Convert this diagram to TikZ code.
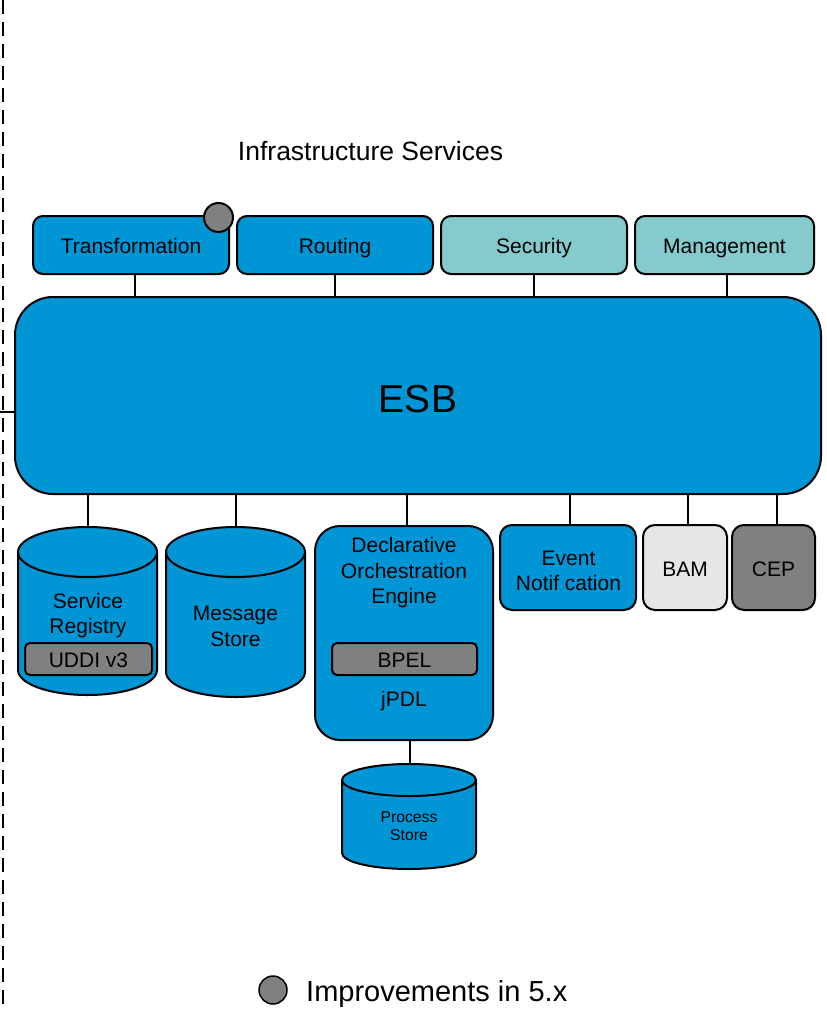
\documentclass[tikz,border=0pt]{standalone}
\usepackage{fontspec}
\setmainfont{Liberation Sans}
\definecolor{esbblue}{RGB}{0,150,214}
\definecolor{tealbox}{RGB}{133,202,204}
\definecolor{mgray}{RGB}{128,128,128}
\definecolor{lgray}{RGB}{230,230,230}
\begin{document}
\begin{tikzpicture}[x=1pt,y=1pt,
  box/.style={draw, line width=2pt, rounded corners=10pt, fill=esbblue, inner sep=0pt, align=center, font=\fontsize{21}{25.5}\selectfont},
  one/.style={text height=17.5pt, text depth=0pt},
  conn/.style={line width=2pt},
  txt/.style={inner sep=0pt, align=center, font=\fontsize{21}{25.5}\selectfont},
  cyl/.style={draw, line width=2pt, fill=esbblue},
  graybox/.style={draw, line width=2pt, rounded corners=5pt, fill=mgray, inner sep=0pt, font=\fontsize{21}{25.5}\selectfont, one},
  dotmark/.style={circle, draw, line width=2pt, fill=mgray, inner sep=0pt, minimum size=29pt}
]
\useasboundingbox (0,0) rectangle (827,-1009);

% left dashed border
\draw[line width=1.5pt, dash pattern=on 14pt off 8pt] (3,0) -- (3,-1009);

% title
\node[txt, font=\fontsize{26.5}{30}\selectfont] (title) at (370.5,-151) {Infrastructure Services};

% ESB
\node[box, rounded corners=38pt, minimum width=806pt, minimum height=197pt, font=\fontsize{39}{45}\selectfont, text height=33pt, text depth=0pt] (esb) at (418,-395.5) {ESB};
\coordinate (lft) at (0,-411.5);
\draw[conn] (lft) -- (lft -| esb.west);

% top services
\node[box, one, minimum width=196pt, minimum height=58pt] (tr) at (131,-245) {Transformation};
\node[box, one, minimum width=196pt, minimum height=58pt] (ro) at (335,-245) {Routing};
\node[box, one, fill=tealbox, minimum width=186pt, minimum height=58pt] (se) at (534,-245) {Security};
\node[box, one, fill=tealbox, minimum width=179pt, minimum height=58pt] (ma) at (724.5,-245) {Management};
\coordinate (trc) at (135,-274);
\coordinate (mac) at (727,-274);
\draw[conn] (trc) -- (trc |- esb.north);
\draw[conn] (ro.south) -- (ro.south |- esb.north);
\draw[conn] (se.south) -- (se.south |- esb.north);
\draw[conn] (mac) -- (mac |- esb.north);
\node[dotmark] (trdot) at (218.5,-217.5) {};

% Service Registry cylinder
\path[cyl] (18,-552) -- (18,-670) arc[start angle=180,end angle=360,x radius=69.5pt,y radius=25pt] -- (157,-552) arc[start angle=0,end angle=180,x radius=69.5pt,y radius=25pt] -- cycle;
\draw[line width=2pt] (18,-552) arc[start angle=180,end angle=360,x radius=69.5pt,y radius=25pt];
\coordinate (sr) at (87.5,-527);
\node[txt] (srt) at (88,-615.5) {Service\\Registry};
\node[graybox, minimum width=127pt, minimum height=32pt] (uddi) at (88.5,-659) {UDDI v3};

% Message Store cylinder
\path[cyl] (166,-552) -- (166,-672) arc[start angle=180,end angle=360,x radius=69.5pt,y radius=25pt] -- (305,-552) arc[start angle=0,end angle=180,x radius=69.5pt,y radius=25pt] -- cycle;
\draw[line width=2pt] (166,-552) arc[start angle=180,end angle=360,x radius=69.5pt,y radius=25pt];
\coordinate (ms) at (235.5,-527);
\node[txt] (mst) at (235.5,-626.5) {Message\\Store};

% Declarative Orchestration Engine
\node[box, rounded corners=25pt, minimum width=178pt, minimum height=214pt] (doe) at (404,-633) {};
\node[txt] (doet) at (404,-573) {Declarative\\Orchestration\\Engine};
\node[graybox, minimum width=145pt, minimum height=32pt] (bpel) at (404.5,-659) {BPEL};
\node[txt] (jpdl) at (404,-701) {jPDL};
\coordinate (doetop) at (407,-526);

% Process Store cylinder
\path[cyl] (342,-780) -- (342,-853) arc[start angle=180,end angle=360,x radius=67pt,y radius=16pt] -- (476,-780) arc[start angle=0,end angle=180,x radius=67pt,y radius=16pt] -- cycle;
\draw[line width=2pt] (342,-780) arc[start angle=180,end angle=360,x radius=67pt,y radius=16pt];
\coordinate (ps) at (410,-764);
\node[txt, font=\fontsize{15.7}{18}\selectfont] (pst) at (409,-826) {Process\\Store};

% Event, BAM, CEP
\node[box, rounded corners=12pt, minimum width=136pt, minimum height=85pt] (ev) at (568,-567.5) {};
\node[txt] (evt) at (568.5,-571) {Event\\Notif cation};
\node[box, one, rounded corners=12pt, fill=lgray, minimum width=84pt, minimum height=85pt] (bam) at (685,-567.5) {BAM};
\node[box, one, rounded corners=12pt, fill=mgray, minimum width=83pt, minimum height=85pt] (cep) at (773.5,-567.5) {CEP};
\coordinate (evc) at (570,-525);
\coordinate (bamc) at (688,-525);
\coordinate (cepc) at (777,-525);

% bottom connectors
\draw[conn] (esb.south -| sr) -- (sr);
\draw[conn] (esb.south -| ms) -- (ms);
\draw[conn] (esb.south -| doetop) -- (doetop);
\draw[conn] (esb.south -| evc) -- (evc);
\draw[conn] (esb.south -| bamc) -- (bamc);
\draw[conn] (esb.south -| cepc) -- (cepc);
\draw[conn] (doe.south -| ps) -- (ps);

% legend
\node[dotmark, line width=1.5pt, minimum size=28pt] (lg) at (273,-990) {};
\node[txt, anchor=west, font=\fontsize{29}{33}\selectfont] (lgt) at (306,-994) {Improvements in 5.x};
\end{tikzpicture}
\end{document}
